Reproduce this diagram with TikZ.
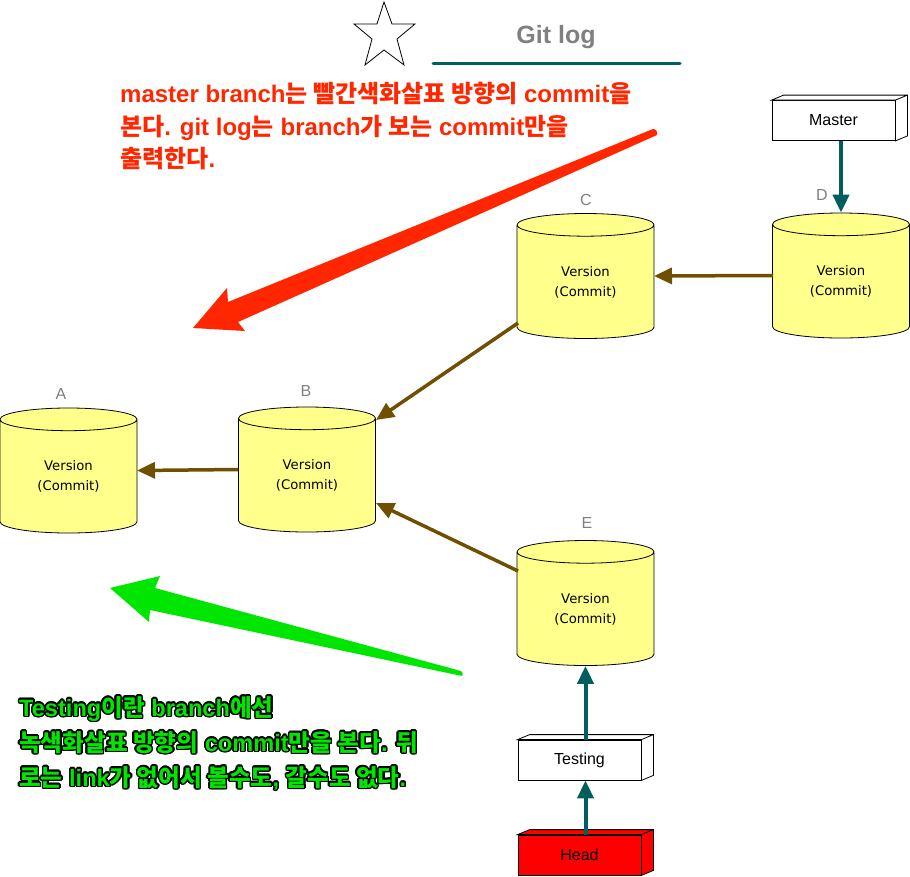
\documentclass[tikz,border=0pt]{standalone}
\usepackage{fontspec}
\setmainfont{Liberation Sans}
\newfontfamily\krfont{Noto Sans CJK KR}
\newfontfamily\verfont{DejaVu Sans}
\usepackage{contour}
\contourlength{1.5pt}
\usetikzlibrary{shapes.geometric,arrows.meta,calc}

\definecolor{notered}{RGB}{255,38,0}
\definecolor{notegreen}{RGB}{0,230,0}
\definecolor{linkteal}{RGB}{0,94,94}
\definecolor{linkbrown}{RGB}{110,80,0}
\definecolor{verfill}{RGB}{255,255,140}
\definecolor{headred}{RGB}{255,0,0}
\definecolor{taggray}{RGB}{128,128,128}

\newcommand\krtxt[1]{{\krfont #1}}

\begin{document}
\begin{tikzpicture}[x=1pt, y=-1pt,
    commit/.style={cylinder, shape border rotate=90, draw, line width=0.8pt, fill=verfill,
      aspect=0.365, minimum width=137pt, minimum height=125pt, inner sep=0pt,
      align=center, anchor=shape center, font=\verfont\fontsize{13.2}{20}\selectfont},
    tag/.style={text=taggray, font=\fontsize{16}{19}\selectfont},
    branchbox/.style={draw, line width=0.8pt, minimum width=123pt, minimum height=40pt,
      font=\fontsize{16}{19}\selectfont},
    parent/.style={-{Triangle[length=18pt,width=16pt]}, line width=3.5pt, linkbrown},
    pointer/.style={-{Triangle[length=18pt,width=16pt]}, line width=4pt, linkteal}]
    \useasboundingbox (0,0) rectangle (910,876);

    % Title
    \draw[line width=0.8pt] (384,2) -- (392,24) -- (415,24) -- (397,39) -- (404,65)
      -- (384,50) -- (365,65) -- (372,39) -- (354,24) -- (377,24) -- cycle;
    \node[text=taggray, font=\bfseries\fontsize{25}{30}\selectfont] (title) at (556,37) {Git log};
    \draw[linkteal, line width=3pt, line cap=round] (433,63) -- (680,63);

    % Commits
    \node[commit] (A) at (68.5,470.5) {Version\\(Commit)};
    \node[commit] (B) at (307,469.5) {Version\\(Commit)};
    \node[commit] (C) at (585.5,276) {Version\\(Commit)};
    \node[commit] (D) at (841,275.5) {Version\\(Commit)};
    \node[commit] (E) at (585.5,603) {Version\\(Commit)};
    \node[tag] (tagA) at (61,394) {A};
    \node[tag] (tagB) at (306,391) {B};
    \node[tag] (tagC) at (586,200) {C};
    \node[tag] (tagD) at (822,195) {D};
    \node[tag] (tagE) at (587,523) {E};

    % Parent links
    \draw[parent] ($(D.shape center)+(-68,0)$) -- ($(C.shape center)+(68.5,0)$);
    \draw[parent] ($(C.shape center)+(-67.5,47)$) -- ($(B.shape center)+(69,-49.5)$);
    \draw[parent] ($(E.shape center)+(-67.5,-32)$) -- ($(B.shape center)+(69,33.5)$);
    \draw[parent] ($(B.shape center)+(-69,0)$) -- ($(A.shape center)+(68.5,0)$);

    % Branches
    \node[branchbox] (master) at (833.5,120.5) {Master};
    \node[branchbox] (testing) at (579.5,760) {Testing};
    \node[branchbox, fill=headred] (head) at (579.5,855) {Head};
    \foreach \b/\c in {master/white, testing/white, head/headred}
      \filldraw[line width=0.8pt, fill=\c] (\b.north west) -- ++(12,-5) -- ($(\b.north east)+(12,-5)$)
        -- ($(\b.south east)+(12,-5)$) -- (\b.south east) -- (\b.north east) -- cycle
        (\b.north east) -- ++(12,-5);

    \draw[pointer] (D.north |- master.south) -- (D.north);
    \draw[pointer] (E.south |- head.north) -- (E.south |- testing.south);
    \draw[pointer] (E.south |- testing.north) -- (E.south);

    % Notes
    \fill[notered] (653,129) -- (228,302) -- (227,288) -- (193,328) -- (245,331)
      -- (238,322) -- (657,135) to[bend right=60] cycle;
    \fill[notegreen] (110,588) -- (160,576) -- (155,588) -- (461,671)
      to[bend left=60] (462,676) -- (150,610) -- (149,622) -- cycle;

    \node[anchor=north west, align=left, inner sep=0pt, text=notered,
      font=\bfseries\fontsize{24}{32.5}\selectfont] (masternote) at (120,82)
      {master branch\krtxt{는 빨간색화살표 방향의} commit\krtxt{을}\\
       \krtxt{본다}. git log\krtxt{는} branch\krtxt{가 보는} commit\krtxt{만을}\\
       \krtxt{출력한다}.};
    \node[anchor=north west, align=left, inner sep=0pt, text=notegreen,
      font=\bfseries\fontsize{23.6}{35}\selectfont] (testingnote) at (19,696)
      {\contour{black}{Testing\krtxt{이란} branch\krtxt{에선}}\\
       \contour{black}{\krtxt{녹색화살표 방향의} commit\krtxt{만을 본다}. \krtxt{뒤}}\\
       \contour{black}{\krtxt{로는} link\krtxt{가 없어서 볼수도}, \krtxt{갈수도 없다}.}};
\end{tikzpicture}
\end{document}
